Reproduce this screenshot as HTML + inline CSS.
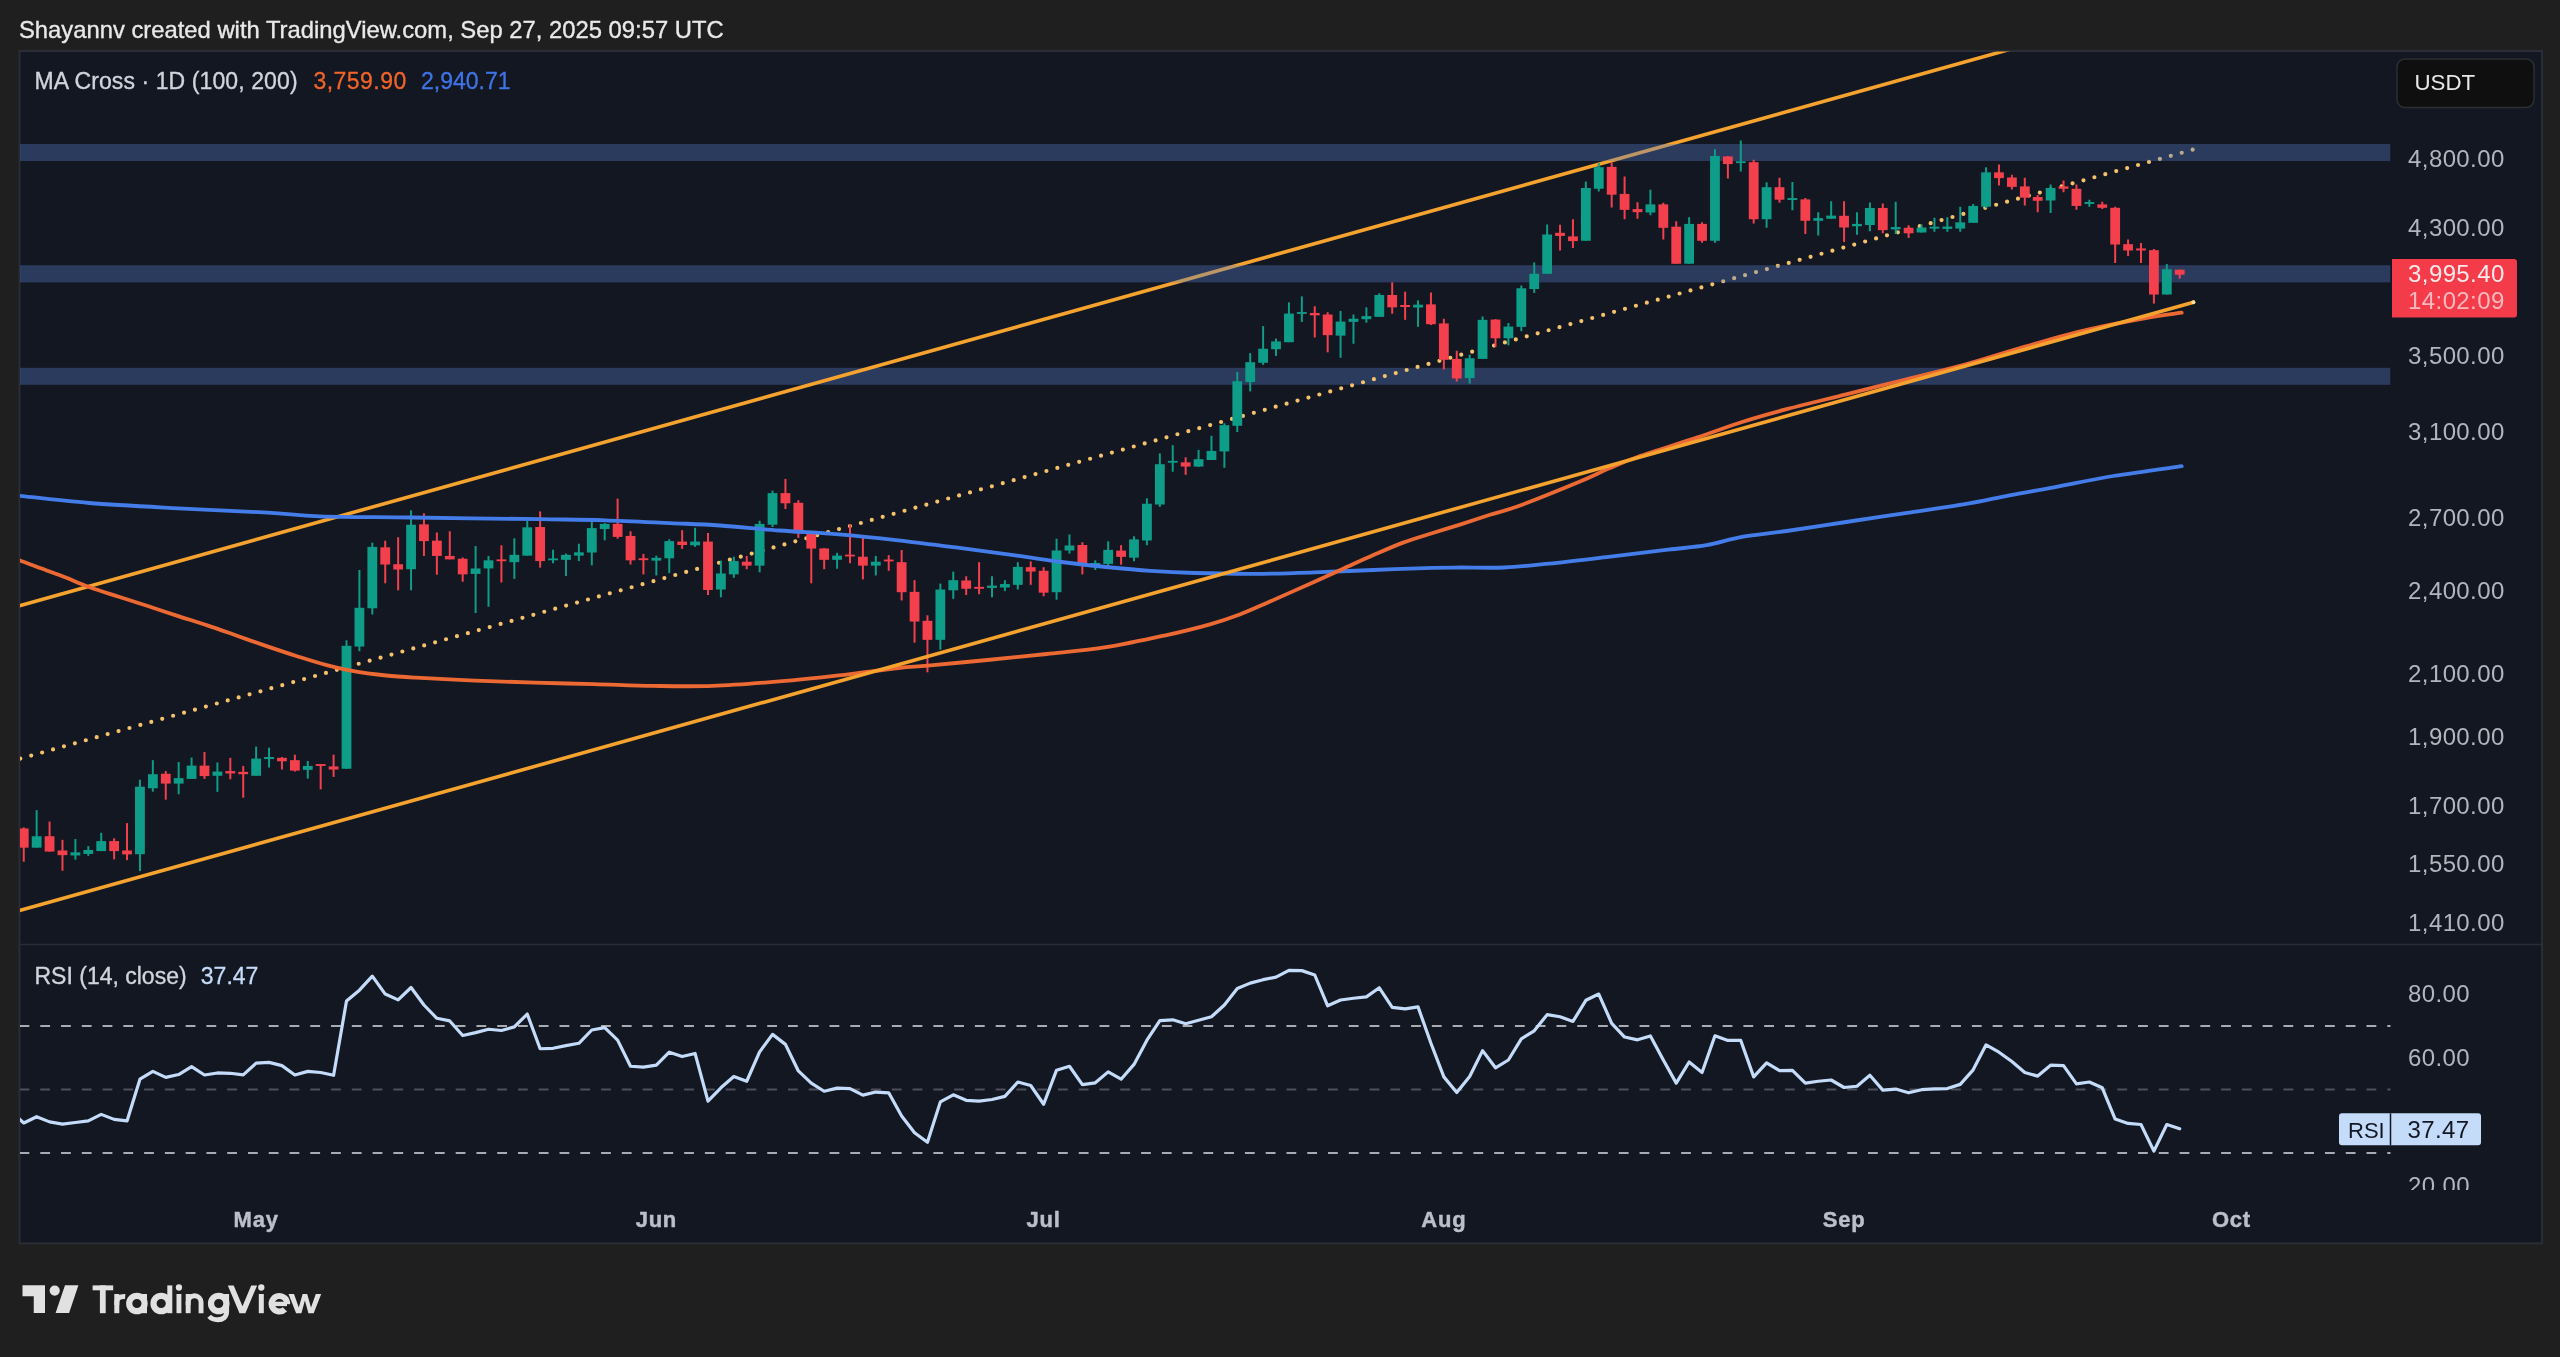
<!DOCTYPE html>
<html><head><meta charset="utf-8"><title>chart</title>
<style>html,body{margin:0;padding:0;background:#1f1f1f;}svg{display:block;will-change:transform}</style></head>
<body>
<svg width="2560" height="1357" viewBox="0 0 2560 1357" font-family='"Liberation Sans", sans-serif'>
<defs>
<clipPath id="pm"><rect x="20.0" y="51.5" width="2370.5" height="892.5"/></clipPath>
<clipPath id="pr"><rect x="20.0" y="945.0" width="2521.5" height="245.0"/></clipPath>
<clipPath id="inb"><rect x="0" y="144" width="2560" height="17"/><rect x="0" y="265.2" width="2560" height="17.2"/></clipPath>
<clipPath id="outb"><path clip-rule="evenodd" d="M0 0H2560V1357H0ZM0 144H2560V161H0ZM0 265.2H2560V282.4H0Z"/></clipPath>
</defs>
<rect width="2560" height="1357" fill="#1f1f1f"/>
<text x="19" y="37.6" font-size="23.8" fill="#e9e9e9" stroke="#e9e9e9" stroke-width="0.35" id="hdr">Shayannv created with TradingView.com, Sep 27, 2025 09:57 UTC</text>
<rect x="19.5" y="51" width="2522.5" height="1192.4" fill="#131722" stroke="#2b2d36" stroke-width="2"/>
<line x1="19.5" x2="2542" y1="944.5" y2="944.5" stroke="#2b2d36" stroke-width="1.5"/>
<g clip-path="url(#pm)">
<rect x="19.5" y="367.8" width="2371.0" height="17" fill="rgba(85,126,203,0.35)"/>
<line x1="19.4" y1="605.7" x2="2100" y2="24.17" stroke="#f5a32e" stroke-width="3.6"/>
<line x1="20.3" y1="758.6" x2="2193.2" y2="149.54" stroke="#f5c26b" stroke-width="4.2" stroke-linecap="round" stroke-dasharray="0 11.337"/>
<rect x="19.5" y="144" width="2371.0" height="17" fill="rgba(85,126,203,0.35)"/>
<rect x="19.5" y="265.2" width="2371.0" height="17.2" fill="rgba(85,126,203,0.35)"/>
<path d="M23.75 827.34V861.72" stroke="#f4404d" stroke-width="2"/><rect x="18.85" y="828.44" width="9.8" height="19.22" fill="#f4404d"/>
<path d="M36.66 810.16V847.66" stroke="#0e9d88" stroke-width="2"/><rect x="31.76" y="836.25" width="9.8" height="11.41" fill="#0e9d88"/>
<path d="M49.57 821.56V851.56" stroke="#f4404d" stroke-width="2"/><rect x="44.67" y="836.25" width="9.8" height="15.31" fill="#f4404d"/>
<path d="M62.48 839.84V870.78" stroke="#f4404d" stroke-width="2"/><rect x="57.58" y="850.47" width="9.8" height="4.69" fill="#f4404d"/>
<path d="M75.39 839.06V859.69" stroke="#0e9d88" stroke-width="2"/><rect x="70.49" y="852.34" width="9.8" height="3.12" fill="#0e9d88"/>
<path d="M88.3 846.09V855.78" stroke="#0e9d88" stroke-width="2"/><rect x="83.4" y="850" width="9.8" height="3.91" fill="#0e9d88"/>
<path d="M101.21 832.81V851.09" stroke="#0e9d88" stroke-width="2"/><rect x="96.31" y="841.09" width="9.8" height="10" fill="#0e9d88"/>
<path d="M114.12 838.28V859.38" stroke="#f4404d" stroke-width="2"/><rect x="109.22" y="841.09" width="9.8" height="10" fill="#f4404d"/>
<path d="M127.03 823.12V860.16" stroke="#f4404d" stroke-width="2"/><rect x="122.13" y="850.47" width="9.8" height="3.91" fill="#f4404d"/>
<path d="M139.94 779.69V871.09" stroke="#0e9d88" stroke-width="2"/><rect x="135.04" y="786.72" width="9.8" height="67.5" fill="#0e9d88"/>
<path d="M152.85 760.16V791.72" stroke="#0e9d88" stroke-width="2"/><rect x="147.95" y="774.22" width="9.8" height="14.06" fill="#0e9d88"/>
<path d="M165.76 771.09V799.69" stroke="#f4404d" stroke-width="2"/><rect x="160.86" y="773.75" width="9.8" height="9.84" fill="#f4404d"/>
<path d="M178.67 762.03V794.22" stroke="#0e9d88" stroke-width="2"/><rect x="173.77" y="778.12" width="9.8" height="5.47" fill="#0e9d88"/>
<path d="M191.58 757.5V778.91" stroke="#0e9d88" stroke-width="2"/><rect x="186.68" y="765.62" width="9.8" height="13.28" fill="#0e9d88"/>
<path d="M204.49 752.03V778.91" stroke="#f4404d" stroke-width="2"/><rect x="199.59" y="765.62" width="9.8" height="10.47" fill="#f4404d"/>
<path d="M217.4 762.5V791.88" stroke="#0e9d88" stroke-width="2"/><rect x="212.5" y="771.56" width="9.8" height="4.22" fill="#0e9d88"/>
<path d="M230.31 757.81V779.22" stroke="#f4404d" stroke-width="2"/><rect x="225.41" y="771.09" width="9.8" height="2.34" fill="#f4404d"/>
<path d="M243.22 765.94V797.66" stroke="#f4404d" stroke-width="2"/><rect x="238.32" y="771.88" width="9.8" height="2.34" fill="#f4404d"/>
<path d="M256.13 746.56V775.78" stroke="#0e9d88" stroke-width="2"/><rect x="251.23" y="758.59" width="9.8" height="17.19" fill="#0e9d88"/>
<path d="M269.04 747.66V767.5" stroke="#0e9d88" stroke-width="2"/><rect x="264.14" y="757.03" width="9.8" height="2.03" fill="#0e9d88"/>
<path d="M281.95 757.03V769.53" stroke="#f4404d" stroke-width="2"/><rect x="277.05" y="757.81" width="9.8" height="3.44" fill="#f4404d"/>
<path d="M294.86 754.69V771.56" stroke="#f4404d" stroke-width="2"/><rect x="289.96" y="760.16" width="9.8" height="10.47" fill="#f4404d"/>
<path d="M307.77 760.94V778.59" stroke="#0e9d88" stroke-width="2"/><rect x="302.87" y="765.94" width="9.8" height="3.91" fill="#0e9d88"/>
<path d="M320.68 764.06V789.38" stroke="#f4404d" stroke-width="2"/><rect x="315.78" y="764.06" width="9.8" height="1.88" fill="#f4404d"/>
<path d="M333.59 754.69V776.88" stroke="#f4404d" stroke-width="2"/><rect x="328.69" y="766.41" width="9.8" height="3.12" fill="#f4404d"/>
<path d="M346.5 640.31V768.75" stroke="#0e9d88" stroke-width="2"/><rect x="341.6" y="645.78" width="9.8" height="122.97" fill="#0e9d88"/>
<path d="M359.41 570V651.25" stroke="#0e9d88" stroke-width="2"/><rect x="354.51" y="607.81" width="9.8" height="38.75" fill="#0e9d88"/>
<path d="M372.32 542.66V614.53" stroke="#0e9d88" stroke-width="2"/><rect x="367.42" y="546.88" width="9.8" height="61.41" fill="#0e9d88"/>
<path d="M385.23 540.78V583.28" stroke="#f4404d" stroke-width="2"/><rect x="380.33" y="547.34" width="9.8" height="17.19" fill="#f4404d"/>
<path d="M398.14 537.19V590.31" stroke="#f4404d" stroke-width="2"/><rect x="393.24" y="564.22" width="9.8" height="5.31" fill="#f4404d"/>
<path d="M411.05 510.31V590.31" stroke="#0e9d88" stroke-width="2"/><rect x="406.15" y="524.69" width="9.8" height="44.53" fill="#0e9d88"/>
<path d="M423.96 513.28V555.94" stroke="#f4404d" stroke-width="2"/><rect x="419.06" y="524.38" width="9.8" height="16.72" fill="#f4404d"/>
<path d="M436.87 532.5V574.69" stroke="#f4404d" stroke-width="2"/><rect x="431.97" y="540.62" width="9.8" height="15.31" fill="#f4404d"/>
<path d="M449.78 531.25V559.38" stroke="#f4404d" stroke-width="2"/><rect x="444.88" y="555.94" width="9.8" height="3.44" fill="#f4404d"/>
<path d="M462.69 557.5V581.72" stroke="#f4404d" stroke-width="2"/><rect x="457.79" y="558.75" width="9.8" height="15.62" fill="#f4404d"/>
<path d="M475.6 546.09V612.97" stroke="#0e9d88" stroke-width="2"/><rect x="470.7" y="568.44" width="9.8" height="5.47" fill="#0e9d88"/>
<path d="M488.51 555.94V606.72" stroke="#0e9d88" stroke-width="2"/><rect x="483.61" y="560.31" width="9.8" height="8.12" fill="#0e9d88"/>
<path d="M501.42 545.31V582.5" stroke="#f4404d" stroke-width="2"/><rect x="496.52" y="559.41" width="9.8" height="1.8" fill="#f4404d"/>
<path d="M514.33 538.28V578.91" stroke="#0e9d88" stroke-width="2"/><rect x="509.43" y="554.84" width="9.8" height="7.34" fill="#0e9d88"/>
<path d="M527.24 520.78V555.62" stroke="#0e9d88" stroke-width="2"/><rect x="522.34" y="527.34" width="9.8" height="28.28" fill="#0e9d88"/>
<path d="M540.15 511.41V567.66" stroke="#f4404d" stroke-width="2"/><rect x="535.25" y="527.03" width="9.8" height="34.06" fill="#f4404d"/>
<path d="M553.06 549.69V563.28" stroke="#0e9d88" stroke-width="2"/><rect x="548.16" y="558.48" width="9.8" height="1.8" fill="#0e9d88"/>
<path d="M565.97 553.59V575.94" stroke="#0e9d88" stroke-width="2"/><rect x="561.07" y="554.84" width="9.8" height="5" fill="#0e9d88"/>
<path d="M578.88 543.75V561.09" stroke="#0e9d88" stroke-width="2"/><rect x="573.98" y="552.34" width="9.8" height="3.28" fill="#0e9d88"/>
<path d="M591.79 521.56V565.31" stroke="#0e9d88" stroke-width="2"/><rect x="586.89" y="528.12" width="9.8" height="24.38" fill="#0e9d88"/>
<path d="M604.7 523.12V540.31" stroke="#0e9d88" stroke-width="2"/><rect x="599.8" y="523.91" width="9.8" height="5.16" fill="#0e9d88"/>
<path d="M617.61 498.59V538.75" stroke="#f4404d" stroke-width="2"/><rect x="612.71" y="523.91" width="9.8" height="12.97" fill="#f4404d"/>
<path d="M630.52 531.25V564.53" stroke="#f4404d" stroke-width="2"/><rect x="625.62" y="535.94" width="9.8" height="24.38" fill="#f4404d"/>
<path d="M643.43 553.91V574.38" stroke="#f4404d" stroke-width="2"/><rect x="638.53" y="558.28" width="9.8" height="1.88" fill="#f4404d"/>
<path d="M656.34 555.62V575.47" stroke="#0e9d88" stroke-width="2"/><rect x="651.44" y="557.81" width="9.8" height="2.81" fill="#0e9d88"/>
<path d="M669.25 539.22V573.12" stroke="#0e9d88" stroke-width="2"/><rect x="664.35" y="541.09" width="9.8" height="17.19" fill="#0e9d88"/>
<path d="M682.16 530.16V548.91" stroke="#f4404d" stroke-width="2"/><rect x="677.26" y="541.56" width="9.8" height="3.44" fill="#f4404d"/>
<path d="M695.07 527.81V546.88" stroke="#0e9d88" stroke-width="2"/><rect x="690.17" y="541.56" width="9.8" height="3.75" fill="#0e9d88"/>
<path d="M707.98 532.97V595" stroke="#f4404d" stroke-width="2"/><rect x="703.08" y="541.56" width="9.8" height="48.44" fill="#f4404d"/>
<path d="M720.89 560.62V597.34" stroke="#0e9d88" stroke-width="2"/><rect x="715.99" y="573.44" width="9.8" height="16.09" fill="#0e9d88"/>
<path d="M733.8 556.72V577.81" stroke="#0e9d88" stroke-width="2"/><rect x="728.9" y="561.09" width="9.8" height="13.28" fill="#0e9d88"/>
<path d="M746.71 555.94V569.22" stroke="#f4404d" stroke-width="2"/><rect x="741.81" y="561.72" width="9.8" height="3.91" fill="#f4404d"/>
<path d="M759.62 520.78V572.34" stroke="#0e9d88" stroke-width="2"/><rect x="754.72" y="523.91" width="9.8" height="41.72" fill="#0e9d88"/>
<path d="M772.53 490.62V527.03" stroke="#0e9d88" stroke-width="2"/><rect x="767.63" y="493.12" width="9.8" height="31.56" fill="#0e9d88"/>
<path d="M785.44 478.91V509.06" stroke="#f4404d" stroke-width="2"/><rect x="780.54" y="493.12" width="9.8" height="10.16" fill="#f4404d"/>
<path d="M798.35 500.16V537.97" stroke="#f4404d" stroke-width="2"/><rect x="793.45" y="502.81" width="9.8" height="30.47" fill="#f4404d"/>
<path d="M811.26 532.5V583.28" stroke="#f4404d" stroke-width="2"/><rect x="806.36" y="532.97" width="9.8" height="15.62" fill="#f4404d"/>
<path d="M824.17 548.12V569.22" stroke="#f4404d" stroke-width="2"/><rect x="819.27" y="548.44" width="9.8" height="11.41" fill="#f4404d"/>
<path d="M837.08 552.81V568.75" stroke="#0e9d88" stroke-width="2"/><rect x="832.18" y="555.62" width="9.8" height="4.22" fill="#0e9d88"/>
<path d="M849.99 523.91V563.28" stroke="#f4404d" stroke-width="2"/><rect x="845.09" y="554.65" width="9.8" height="1.8" fill="#f4404d"/>
<path d="M862.9 537.19V579.38" stroke="#f4404d" stroke-width="2"/><rect x="858" y="556.72" width="9.8" height="8.91" fill="#f4404d"/>
<path d="M875.81 555.94V575.47" stroke="#0e9d88" stroke-width="2"/><rect x="870.91" y="561.72" width="9.8" height="3.91" fill="#0e9d88"/>
<path d="M888.72 555.16V570.78" stroke="#f4404d" stroke-width="2"/><rect x="883.82" y="559.57" width="9.8" height="1.8" fill="#f4404d"/>
<path d="M901.63 550V600.47" stroke="#f4404d" stroke-width="2"/><rect x="896.73" y="562.19" width="9.8" height="30" fill="#f4404d"/>
<path d="M914.54 580.16V642.66" stroke="#f4404d" stroke-width="2"/><rect x="909.64" y="591.88" width="9.8" height="29.69" fill="#f4404d"/>
<path d="M927.45 615.31V672.34" stroke="#f4404d" stroke-width="2"/><rect x="922.55" y="620.78" width="9.8" height="19.06" fill="#f4404d"/>
<path d="M940.36 583.59V649.69" stroke="#0e9d88" stroke-width="2"/><rect x="935.46" y="589.53" width="9.8" height="50.31" fill="#0e9d88"/>
<path d="M953.27 571.56V598.91" stroke="#0e9d88" stroke-width="2"/><rect x="948.37" y="580.16" width="9.8" height="10.16" fill="#0e9d88"/>
<path d="M966.18 576.25V595" stroke="#f4404d" stroke-width="2"/><rect x="961.28" y="580.47" width="9.8" height="8.28" fill="#f4404d"/>
<path d="M979.09 562.19V594.22" stroke="#f4404d" stroke-width="2"/><rect x="974.19" y="586.88" width="9.8" height="1.88" fill="#f4404d"/>
<path d="M992 576.25V597.34" stroke="#0e9d88" stroke-width="2"/><rect x="987.1" y="585.62" width="9.8" height="2.34" fill="#0e9d88"/>
<path d="M1004.91 580.16V591.09" stroke="#0e9d88" stroke-width="2"/><rect x="1000.01" y="584.06" width="9.8" height="3.44" fill="#0e9d88"/>
<path d="M1017.82 562.19V589.53" stroke="#0e9d88" stroke-width="2"/><rect x="1012.92" y="566.88" width="9.8" height="17.97" fill="#0e9d88"/>
<path d="M1030.73 561.41V584.84" stroke="#f4404d" stroke-width="2"/><rect x="1025.83" y="567.19" width="9.8" height="4.38" fill="#f4404d"/>
<path d="M1043.64 567.19V596.25" stroke="#f4404d" stroke-width="2"/><rect x="1038.74" y="570.78" width="9.8" height="21.88" fill="#f4404d"/>
<path d="M1056.55 538.75V599.69" stroke="#0e9d88" stroke-width="2"/><rect x="1051.65" y="550.47" width="9.8" height="41.72" fill="#0e9d88"/>
<path d="M1069.46 534.53V553.59" stroke="#0e9d88" stroke-width="2"/><rect x="1064.56" y="545.47" width="9.8" height="5" fill="#0e9d88"/>
<path d="M1082.37 542.19V574.38" stroke="#f4404d" stroke-width="2"/><rect x="1077.47" y="545" width="9.8" height="18.28" fill="#f4404d"/>
<path d="M1095.28 560.31V570" stroke="#0e9d88" stroke-width="2"/><rect x="1090.38" y="562.97" width="9.8" height="4.22" fill="#0e9d88"/>
<path d="M1108.19 541.25V566.25" stroke="#0e9d88" stroke-width="2"/><rect x="1103.29" y="549.84" width="9.8" height="14.06" fill="#0e9d88"/>
<path d="M1121.1 545.16V564.69" stroke="#f4404d" stroke-width="2"/><rect x="1116.2" y="550.62" width="9.8" height="6.25" fill="#f4404d"/>
<path d="M1134.01 536.25V561.25" stroke="#0e9d88" stroke-width="2"/><rect x="1129.11" y="539.38" width="9.8" height="18.28" fill="#0e9d88"/>
<path d="M1146.92 498.28V545.16" stroke="#0e9d88" stroke-width="2"/><rect x="1142.02" y="503.75" width="9.8" height="36.72" fill="#0e9d88"/>
<path d="M1159.83 453.44V506.88" stroke="#0e9d88" stroke-width="2"/><rect x="1154.93" y="464.22" width="9.8" height="40.31" fill="#0e9d88"/>
<path d="M1172.74 445.16V471.72" stroke="#0e9d88" stroke-width="2"/><rect x="1167.84" y="460.9" width="9.8" height="1.8" fill="#0e9d88"/>
<path d="M1185.65 457.34V474.84" stroke="#f4404d" stroke-width="2"/><rect x="1180.75" y="462.34" width="9.8" height="4.22" fill="#f4404d"/>
<path d="M1198.56 449.84V467.03" stroke="#0e9d88" stroke-width="2"/><rect x="1193.66" y="459.22" width="9.8" height="7.34" fill="#0e9d88"/>
<path d="M1211.47 435.78V460" stroke="#0e9d88" stroke-width="2"/><rect x="1206.57" y="450.94" width="9.8" height="9.06" fill="#0e9d88"/>
<path d="M1224.38 423.28V467.81" stroke="#0e9d88" stroke-width="2"/><rect x="1219.48" y="425.16" width="9.8" height="26.25" fill="#0e9d88"/>
<path d="M1237.29 371.88V432.03" stroke="#0e9d88" stroke-width="2"/><rect x="1232.39" y="381.25" width="9.8" height="44.53" fill="#0e9d88"/>
<path d="M1250.2 353.12V391.41" stroke="#0e9d88" stroke-width="2"/><rect x="1245.3" y="362.19" width="9.8" height="19.84" fill="#0e9d88"/>
<path d="M1263.11 326.09V364.84" stroke="#0e9d88" stroke-width="2"/><rect x="1258.21" y="348.75" width="9.8" height="14.06" fill="#0e9d88"/>
<path d="M1276.02 338.59V355.94" stroke="#0e9d88" stroke-width="2"/><rect x="1271.12" y="341.41" width="9.8" height="7.81" fill="#0e9d88"/>
<path d="M1288.93 302.34V342.19" stroke="#0e9d88" stroke-width="2"/><rect x="1284.03" y="313.59" width="9.8" height="28.59" fill="#0e9d88"/>
<path d="M1301.84 296.41V321.88" stroke="#0e9d88" stroke-width="2"/><rect x="1296.94" y="312.07" width="9.8" height="1.8" fill="#0e9d88"/>
<path d="M1314.75 306.25V337.5" stroke="#f4404d" stroke-width="2"/><rect x="1309.85" y="312.97" width="9.8" height="2.34" fill="#f4404d"/>
<path d="M1327.66 312.19V352.34" stroke="#f4404d" stroke-width="2"/><rect x="1322.76" y="314.53" width="9.8" height="20.62" fill="#f4404d"/>
<path d="M1340.57 310.94V357.81" stroke="#0e9d88" stroke-width="2"/><rect x="1335.67" y="321.56" width="9.8" height="14.06" fill="#0e9d88"/>
<path d="M1353.48 314.53V343.75" stroke="#0e9d88" stroke-width="2"/><rect x="1348.58" y="318.75" width="9.8" height="3.12" fill="#0e9d88"/>
<path d="M1366.39 307.34V322.66" stroke="#0e9d88" stroke-width="2"/><rect x="1361.49" y="316.09" width="9.8" height="3.12" fill="#0e9d88"/>
<path d="M1379.3 293.28V316.88" stroke="#0e9d88" stroke-width="2"/><rect x="1374.4" y="295" width="9.8" height="21.88" fill="#0e9d88"/>
<path d="M1392.21 282.34V313.75" stroke="#f4404d" stroke-width="2"/><rect x="1387.31" y="295" width="9.8" height="12.34" fill="#f4404d"/>
<path d="M1405.12 291.72V319.84" stroke="#f4404d" stroke-width="2"/><rect x="1400.22" y="305" width="9.8" height="2.03" fill="#f4404d"/>
<path d="M1418.03 300.31V326.88" stroke="#0e9d88" stroke-width="2"/><rect x="1413.13" y="304.69" width="9.8" height="2.81" fill="#0e9d88"/>
<path d="M1430.94 292.5V325" stroke="#f4404d" stroke-width="2"/><rect x="1426.04" y="304.38" width="9.8" height="19.84" fill="#f4404d"/>
<path d="M1443.85 318.75V369.53" stroke="#f4404d" stroke-width="2"/><rect x="1438.95" y="323.44" width="9.8" height="36.41" fill="#f4404d"/>
<path d="M1456.76 350.78V381.56" stroke="#f4404d" stroke-width="2"/><rect x="1451.86" y="358.91" width="9.8" height="19.53" fill="#f4404d"/>
<path d="M1469.67 354.69V383.59" stroke="#0e9d88" stroke-width="2"/><rect x="1464.77" y="358.28" width="9.8" height="19.84" fill="#0e9d88"/>
<path d="M1482.58 316.41V358.91" stroke="#0e9d88" stroke-width="2"/><rect x="1477.68" y="319.84" width="9.8" height="39.06" fill="#0e9d88"/>
<path d="M1495.49 319.22V346.88" stroke="#f4404d" stroke-width="2"/><rect x="1490.59" y="319.53" width="9.8" height="18.75" fill="#f4404d"/>
<path d="M1508.4 322.97V345.31" stroke="#0e9d88" stroke-width="2"/><rect x="1503.5" y="326.56" width="9.8" height="11.72" fill="#0e9d88"/>
<path d="M1521.31 285.47V331.25" stroke="#0e9d88" stroke-width="2"/><rect x="1516.41" y="288.28" width="9.8" height="38.59" fill="#0e9d88"/>
<path d="M1534.22 262.5V292.97" stroke="#0e9d88" stroke-width="2"/><rect x="1529.32" y="273.75" width="9.8" height="15.31" fill="#0e9d88"/>
<path d="M1547.13 224.5V273.75" stroke="#0e9d88" stroke-width="2"/><rect x="1542.23" y="234.5" width="9.8" height="39.25" fill="#0e9d88"/>
<path d="M1560.04 224.69V250.47" stroke="#f4404d" stroke-width="2"/><rect x="1555.14" y="232.81" width="9.8" height="3.12" fill="#f4404d"/>
<path d="M1572.95 219.22V248.12" stroke="#f4404d" stroke-width="2"/><rect x="1568.05" y="236.41" width="9.8" height="4.69" fill="#f4404d"/>
<path d="M1585.86 181.41V240.78" stroke="#0e9d88" stroke-width="2"/><rect x="1580.96" y="187.97" width="9.8" height="52.81" fill="#0e9d88"/>
<path d="M1598.77 162.97V191.56" stroke="#0e9d88" stroke-width="2"/><rect x="1593.87" y="167.19" width="9.8" height="21.56" fill="#0e9d88"/>
<path d="M1611.68 162.19V207.5" stroke="#f4404d" stroke-width="2"/><rect x="1606.78" y="166.88" width="9.8" height="27.81" fill="#f4404d"/>
<path d="M1624.59 176.56V219.22" stroke="#f4404d" stroke-width="2"/><rect x="1619.69" y="193.91" width="9.8" height="15.94" fill="#f4404d"/>
<path d="M1637.5 202.34V218.75" stroke="#f4404d" stroke-width="2"/><rect x="1632.6" y="209.06" width="9.8" height="3.12" fill="#f4404d"/>
<path d="M1650.41 189.84V215.31" stroke="#0e9d88" stroke-width="2"/><rect x="1645.51" y="204.38" width="9.8" height="8.12" fill="#0e9d88"/>
<path d="M1663.32 202.81V239.53" stroke="#f4404d" stroke-width="2"/><rect x="1658.42" y="204.38" width="9.8" height="23.44" fill="#f4404d"/>
<path d="M1676.23 221.25V263.75" stroke="#f4404d" stroke-width="2"/><rect x="1671.33" y="226.72" width="9.8" height="37.03" fill="#f4404d"/>
<path d="M1689.14 217.19V263.75" stroke="#0e9d88" stroke-width="2"/><rect x="1684.24" y="223.91" width="9.8" height="39.84" fill="#0e9d88"/>
<path d="M1702.05 222.34V242.66" stroke="#f4404d" stroke-width="2"/><rect x="1697.15" y="223.91" width="9.8" height="16.88" fill="#f4404d"/>
<path d="M1714.96 149.22V242.66" stroke="#0e9d88" stroke-width="2"/><rect x="1710.06" y="155.94" width="9.8" height="84.84" fill="#0e9d88"/>
<path d="M1727.87 155.94V178.59" stroke="#f4404d" stroke-width="2"/><rect x="1722.97" y="156.41" width="9.8" height="7.66" fill="#f4404d"/>
<path d="M1740.78 140.62V171.56" stroke="#0e9d88" stroke-width="2"/><rect x="1735.88" y="161.29" width="9.8" height="1.8" fill="#0e9d88"/>
<path d="M1753.69 159.84V223.44" stroke="#f4404d" stroke-width="2"/><rect x="1748.79" y="162.19" width="9.8" height="57.03" fill="#f4404d"/>
<path d="M1766.6 182.19V227.81" stroke="#0e9d88" stroke-width="2"/><rect x="1761.7" y="187.19" width="9.8" height="32.03" fill="#0e9d88"/>
<path d="M1779.51 177.81V202.81" stroke="#f4404d" stroke-width="2"/><rect x="1774.61" y="187.19" width="9.8" height="12.5" fill="#f4404d"/>
<path d="M1792.42 182.03V210.31" stroke="#0e9d88" stroke-width="2"/><rect x="1787.52" y="198.12" width="9.8" height="1.88" fill="#0e9d88"/>
<path d="M1805.33 198.12V234.06" stroke="#f4404d" stroke-width="2"/><rect x="1800.43" y="199.38" width="9.8" height="21.41" fill="#f4404d"/>
<path d="M1818.24 212.19V235.62" stroke="#0e9d88" stroke-width="2"/><rect x="1813.34" y="218.12" width="9.8" height="2.66" fill="#0e9d88"/>
<path d="M1831.15 201.25V218.75" stroke="#0e9d88" stroke-width="2"/><rect x="1826.25" y="215.62" width="9.8" height="3.12" fill="#0e9d88"/>
<path d="M1844.06 201.25V241.88" stroke="#f4404d" stroke-width="2"/><rect x="1839.16" y="215.78" width="9.8" height="11.72" fill="#f4404d"/>
<path d="M1856.97 212.19V234.84" stroke="#0e9d88" stroke-width="2"/><rect x="1852.07" y="223.91" width="9.8" height="2.34" fill="#0e9d88"/>
<path d="M1869.88 202.5V231.25" stroke="#0e9d88" stroke-width="2"/><rect x="1864.98" y="207.97" width="9.8" height="17.03" fill="#0e9d88"/>
<path d="M1882.79 203.59V233.28" stroke="#f4404d" stroke-width="2"/><rect x="1877.89" y="207.97" width="9.8" height="22.19" fill="#f4404d"/>
<path d="M1895.7 201.72V234.06" stroke="#0e9d88" stroke-width="2"/><rect x="1890.8" y="227.03" width="9.8" height="2.34" fill="#0e9d88"/>
<path d="M1908.61 225.16V237.97" stroke="#f4404d" stroke-width="2"/><rect x="1903.71" y="227.81" width="9.8" height="5.47" fill="#f4404d"/>
<path d="M1921.52 224.38V232.5" stroke="#0e9d88" stroke-width="2"/><rect x="1916.62" y="227.5" width="9.8" height="5" fill="#0e9d88"/>
<path d="M1934.43 217.66V231.72" stroke="#0e9d88" stroke-width="2"/><rect x="1929.53" y="226.72" width="9.8" height="1.88" fill="#0e9d88"/>
<path d="M1947.34 217.19V231.72" stroke="#0e9d88" stroke-width="2"/><rect x="1942.44" y="226.56" width="9.8" height="2.34" fill="#0e9d88"/>
<path d="M1960.25 206.72V231.72" stroke="#0e9d88" stroke-width="2"/><rect x="1955.35" y="222.34" width="9.8" height="6.25" fill="#0e9d88"/>
<path d="M1973.16 203.91V222.81" stroke="#0e9d88" stroke-width="2"/><rect x="1968.26" y="205.94" width="9.8" height="16.88" fill="#0e9d88"/>
<path d="M1986.07 167.34V208.28" stroke="#0e9d88" stroke-width="2"/><rect x="1981.17" y="172.34" width="9.8" height="34.38" fill="#0e9d88"/>
<path d="M1998.98 164.53V185.62" stroke="#f4404d" stroke-width="2"/><rect x="1994.08" y="172.34" width="9.8" height="5.78" fill="#f4404d"/>
<path d="M2011.89 174.69V189.53" stroke="#f4404d" stroke-width="2"/><rect x="2006.99" y="177.5" width="9.8" height="9.38" fill="#f4404d"/>
<path d="M2024.8 177.81V205.62" stroke="#f4404d" stroke-width="2"/><rect x="2019.9" y="186.41" width="9.8" height="11.25" fill="#f4404d"/>
<path d="M2037.71 195V212.19" stroke="#f4404d" stroke-width="2"/><rect x="2032.81" y="197.03" width="9.8" height="3.75" fill="#f4404d"/>
<path d="M2050.62 184.38V212.97" stroke="#0e9d88" stroke-width="2"/><rect x="2045.72" y="187.97" width="9.8" height="12.5" fill="#0e9d88"/>
<path d="M2063.53 180.62V192.19" stroke="#f4404d" stroke-width="2"/><rect x="2058.63" y="186.41" width="9.8" height="2.34" fill="#f4404d"/>
<path d="M2076.44 184.53V209.84" stroke="#f4404d" stroke-width="2"/><rect x="2071.54" y="188.75" width="9.8" height="17.19" fill="#f4404d"/>
<path d="M2089.35 199.69V206.72" stroke="#0e9d88" stroke-width="2"/><rect x="2084.45" y="202.03" width="9.8" height="1.88" fill="#0e9d88"/>
<path d="M2102.26 201.72V209.06" stroke="#f4404d" stroke-width="2"/><rect x="2097.36" y="204.38" width="9.8" height="3.44" fill="#f4404d"/>
<path d="M2115.17 206.72V262.97" stroke="#f4404d" stroke-width="2"/><rect x="2110.27" y="207.81" width="9.8" height="36.72" fill="#f4404d"/>
<path d="M2128.08 239.53V255.94" stroke="#f4404d" stroke-width="2"/><rect x="2123.18" y="244.22" width="9.8" height="6.25" fill="#f4404d"/>
<path d="M2140.99 243.12V262.97" stroke="#f4404d" stroke-width="2"/><rect x="2136.09" y="248.44" width="9.8" height="2.03" fill="#f4404d"/>
<path d="M2153.9 248.91V303.59" stroke="#f4404d" stroke-width="2"/><rect x="2149" y="250.16" width="9.8" height="44.38" fill="#f4404d"/>
<path d="M2166.81 264.06V294.53" stroke="#0e9d88" stroke-width="2"/><rect x="2161.91" y="269.22" width="9.8" height="25.31" fill="#0e9d88"/>
<path d="M2179.72 269.69V278.59" stroke="#f4404d" stroke-width="2"/><rect x="2174.82" y="269.69" width="9.8" height="5" fill="#f4404d"/>
<path d="M19.3 495.8C30.93 497 62.62 500.92 89.1 503C115.58 505.08 148.5 506.7 178.2 508.3C207.9 509.9 243.67 511.27 267.3 512.6C290.93 513.93 296.05 515.48 320 516.3C343.95 517.12 374.33 517.02 411 517.5C447.67 517.98 507.67 518.73 540 519.2C572.33 519.67 583.33 519.65 605 520.3C626.67 520.95 650.83 522.23 670 523.1C689.17 523.97 701.77 524.27 720 525.5C738.23 526.73 759.6 529.03 779.4 530.5C799.2 531.97 819 532.67 838.8 534.3C858.6 535.93 878.4 538.07 898.2 540.3C918 542.53 937.8 545.13 957.6 547.7C977.4 550.27 999.68 553.32 1017 555.7C1034.32 558.08 1046.65 560.12 1061.5 562C1076.35 563.88 1091.25 565.52 1106.1 567C1120.95 568.48 1135.75 569.9 1150.6 570.9C1165.45 571.9 1177.87 572.52 1195.2 573C1212.53 573.48 1234.8 573.9 1254.6 573.8C1274.4 573.7 1294.2 573.03 1314 572.4C1333.8 571.77 1353.6 570.75 1373.4 570C1393.2 569.25 1418.37 568.32 1432.8 567.9C1447.23 567.48 1448.03 567.57 1460 567.5C1471.97 567.43 1489.75 568.15 1504.6 567.5C1519.45 566.85 1531.78 565.38 1549.1 563.6C1566.42 561.82 1588.7 559.12 1608.5 556.8C1628.3 554.48 1651.57 551.63 1667.9 549.7C1684.23 547.77 1694.13 547.33 1706.5 545.2C1718.87 543.07 1728.73 539.27 1742.1 536.9C1755.47 534.53 1769.37 533.48 1786.7 531C1804.03 528.52 1826.3 524.98 1846.1 522C1865.9 519.02 1885.7 516.07 1905.5 513.1C1925.3 510.13 1947.58 507.17 1964.9 504.2C1982.22 501.23 1994.55 498.12 2009.4 495.3C2024.25 492.48 2036.67 490.52 2054 487.3C2071.33 484.08 2092.12 479.52 2113.4 476C2134.68 472.48 2170.32 467.83 2181.7 466.2" fill="none" stroke="#447dea" stroke-width="3.8" stroke-linecap="round"/>
<path d="M19.3 560.3C25.98 562.77 47.77 570.65 59.4 575.1C71.03 579.55 79.2 583.38 89.1 587C99 590.62 108.9 593.58 118.8 596.8C128.7 600.02 138.6 603.08 148.5 606.3C158.4 609.52 168.3 612.88 178.2 616.1C188.1 619.32 198 622.28 207.9 625.6C217.8 628.92 227.7 632.53 237.6 636C247.5 639.47 257.4 643.03 267.3 646.4C277.2 649.77 287.1 653.08 297 656.2C306.9 659.32 316.8 662.52 326.7 665.1C336.6 667.68 346.5 669.97 356.4 671.7C366.3 673.43 376.2 674.52 386.1 675.5C396 676.48 400.95 676.75 415.8 677.6C430.65 678.45 455.4 679.75 475.2 680.6C495 681.45 514.8 682.12 534.6 682.7C554.4 683.28 574.2 683.57 594 684.1C613.8 684.63 633.6 685.6 653.4 685.9C673.2 686.2 691.8 686.65 712.8 685.9C733.8 685.15 758.4 683.15 779.4 681.4C800.4 679.65 819 677.63 838.8 675.4C858.6 673.17 883.35 669.63 898.2 668C913.05 666.37 913.05 666.93 927.9 665.6C942.75 664.27 967.5 661.93 987.3 660C1007.1 658.07 1026.9 656.13 1046.7 654C1066.5 651.87 1086.3 650.32 1106.1 647.2C1125.9 644.08 1148.18 639.12 1165.5 635.3C1182.82 631.48 1197.63 627.77 1210 624.3C1222.37 620.83 1229.8 618.25 1239.7 614.5C1249.6 610.75 1257.02 607.23 1269.4 601.8C1281.78 596.37 1301.62 587.45 1314 581.9C1326.38 576.35 1333.8 572.97 1343.7 568.5C1353.6 564.03 1363.5 559.42 1373.4 555.1C1383.3 550.78 1393.2 546.28 1403.1 542.6C1413 538.92 1423.32 536 1432.8 533C1442.28 530 1450.47 527.63 1460 524.6C1469.53 521.57 1480.1 517.95 1490 514.8C1499.9 511.65 1504.6 511.17 1519.4 505.7C1534.2 500.23 1563.95 488.18 1578.8 482C1593.65 475.82 1598.6 472.82 1608.5 468.6C1618.4 464.38 1623.35 461.9 1638.2 456.7C1653.05 451.5 1680.28 443.18 1697.6 437.4C1714.92 431.62 1727.25 426.7 1742.1 422C1756.95 417.3 1769.37 413.82 1786.7 409.2C1804.03 404.58 1826.3 399.25 1846.1 394.3C1865.9 389.35 1885.7 384.45 1905.5 379.5C1925.3 374.55 1945.1 370.05 1964.9 364.6C1984.7 359.15 2004.5 352.48 2024.3 346.8C2044.1 341.12 2063.9 335.2 2083.7 330.5C2103.5 325.8 2126.77 321.57 2143.1 318.6C2159.43 315.63 2175.27 313.68 2181.7 312.7" fill="none" stroke="#ec6934" stroke-width="3.8" stroke-linecap="round"/>
<line x1="19.4" y1="910.6" x2="2193.6" y2="302.19" stroke="#f5a32e" stroke-width="3.6" stroke-linecap="round"/>
<circle cx="2193.3" cy="302.29" r="2" fill="#fbdca0"/>
</g>
<text x="34.5" y="88.7" font-size="23" letter-spacing="0.1" fill="#d1d4dc" stroke="#d1d4dc" stroke-width="0.35" id="lg1">MA Cross · 1D (100, 200)</text>
<text x="313.5" y="88.7" font-size="23" letter-spacing="0.45" fill="#f0642a" stroke="#f0642a" stroke-width="0.3" id="lg2">3,759.90</text>
<text x="421" y="88.7" font-size="23" fill="#3f74e8" stroke="#3f74e8" stroke-width="0.3" id="lg3">2,940.71</text>
<text x="2504.7" y="167" font-size="24" letter-spacing="0.4" fill="#b2b5be" text-anchor="end" class="pl">4,800.00</text>
<text x="2504.7" y="235.59" font-size="24" letter-spacing="0.4" fill="#b2b5be" text-anchor="end" class="pl">4,300.00</text>
<text x="2504.7" y="363.93" font-size="24" letter-spacing="0.4" fill="#b2b5be" text-anchor="end" class="pl">3,500.00</text>
<text x="2504.7" y="439.6" font-size="24" letter-spacing="0.4" fill="#b2b5be" text-anchor="end" class="pl">3,100.00</text>
<text x="2504.7" y="525.74" font-size="24" letter-spacing="0.4" fill="#b2b5be" text-anchor="end" class="pl">2,700.00</text>
<text x="2504.7" y="599.18" font-size="24" letter-spacing="0.4" fill="#b2b5be" text-anchor="end" class="pl">2,400.00</text>
<text x="2504.7" y="682.43" font-size="24" letter-spacing="0.4" fill="#b2b5be" text-anchor="end" class="pl">2,100.00</text>
<text x="2504.7" y="744.84" font-size="24" letter-spacing="0.4" fill="#b2b5be" text-anchor="end" class="pl">1,900.00</text>
<text x="2504.7" y="814.19" font-size="24" letter-spacing="0.4" fill="#b2b5be" text-anchor="end" class="pl">1,700.00</text>
<text x="2504.7" y="871.78" font-size="24" letter-spacing="0.4" fill="#b2b5be" text-anchor="end" class="pl">1,550.00</text>
<text x="2504.7" y="930.8" font-size="24" letter-spacing="0.4" fill="#b2b5be" text-anchor="end" class="pl">1,410.00</text>
<path d="M2392 259H2514a3 3 0 0 1 3 3V314.5a3 3 0 0 1-3 3H2392Z" fill="#f33b4a"/>
<text x="2504.7" y="282" font-size="24" letter-spacing="0.4" fill="#ffe9eb" text-anchor="end">3,995.40</text>
<text x="2504.7" y="309.2" font-size="24" letter-spacing="0.4" fill="#fbb9be" text-anchor="end">14:02:09</text>
<rect x="2397" y="59" width="137" height="48.5" rx="8" fill="#0f0f0f" stroke="#2e2e33" stroke-width="1.5"/>
<text x="2414.5" y="90.3" font-size="22.3" fill="#e8e8e8">USDT</text>
<g clip-path="url(#pr)">
<line x1="19.5" x2="2390.5" y1="1026" y2="1026" stroke="#a9abb3" stroke-width="2" stroke-dasharray="9.8 10.97"/>
<line x1="19.5" x2="2390.5" y1="1089.5" y2="1089.5" stroke="#4e515c" stroke-width="2" stroke-dasharray="9.8 10.97"/>
<line x1="19.5" x2="2390.5" y1="1153" y2="1153" stroke="#a9abb3" stroke-width="2" stroke-dasharray="9.8 10.97"/>
<path d="M19.3 1119.06L23.75 1122.97L36.66 1116.72L49.57 1121.88L62.48 1124.06L75.39 1122.5L88.3 1120.94L101.21 1114.38L114.12 1119.38L127.03 1120.94L139.94 1079.22L152.85 1071.41L165.76 1077.34L178.67 1074.53L191.58 1066.72L204.49 1075L217.4 1072.97L230.31 1073.28L243.22 1074.84L256.13 1063.12L269.04 1062.34L281.95 1065.62L294.86 1075L307.77 1071.41L320.68 1072.5L333.59 1075.31L346.5 1001.09L359.41 990.16L372.32 976.09L385.23 994.06L398.14 999.84L411.05 987.5L423.96 1005L436.87 1018.28L449.78 1020.94L462.69 1035.47L475.6 1032.66L488.51 1029.22L501.42 1030.47L514.33 1026.88L527.24 1014.06L540.15 1048.75L553.06 1048.28L565.97 1045.62L578.88 1043.28L591.79 1030L604.7 1027.66L617.61 1040.16L630.52 1066.25L643.43 1067.19L656.34 1065.16L669.25 1052.19L682.16 1056.56L695.07 1053.44L707.98 1101.09L720.89 1087.81L733.8 1076.56L746.71 1081.25L759.62 1051.88L772.53 1034.38L785.44 1044.38L798.35 1070.94L811.26 1083.12L824.17 1091.25L837.08 1088.12L849.99 1088.59L862.9 1095.16L875.81 1092.03L888.72 1092.81L901.63 1115.94L914.54 1132.81L927.45 1142.19L940.36 1101.88L953.27 1094.84L966.18 1100.31L979.09 1101.09L992 1099.53L1004.91 1096.41L1017.82 1082.03L1030.73 1085.47L1043.64 1104.22L1056.55 1070.16L1069.46 1066.25L1082.37 1084.69L1095.28 1082.81L1108.19 1071.88L1121.1 1079.22L1134.01 1064.38L1146.92 1040.16L1159.83 1020.62L1172.74 1019.84L1185.65 1023.75L1198.56 1020.31L1211.47 1016.72L1224.38 1005L1237.29 988.59L1250.2 983.12L1263.11 979.69L1276.02 977.19L1288.93 970.31L1301.84 970.62L1314.75 975L1327.66 1005.78L1340.57 1000L1353.48 998.28L1366.39 996.88L1379.3 987.81L1392.21 1007.34L1405.12 1008.91L1418.03 1006.88L1430.94 1043.28L1443.85 1076.88L1456.76 1092.5L1469.67 1076.56L1482.58 1050.62L1495.49 1067.81L1508.4 1060L1521.31 1038.91L1534.22 1030.78L1547.13 1014.69L1560.04 1016.72L1572.95 1021.41L1585.86 1000.31L1598.77 994.06L1611.68 1023.28L1624.59 1037.03L1637.5 1039.84L1650.41 1035.94L1663.32 1060L1676.23 1083.12L1689.14 1062.03L1702.05 1072.5L1714.96 1035.78L1727.87 1040.47L1740.78 1040.47L1753.69 1076.88L1766.6 1062.81L1779.51 1070.62L1792.42 1070.31L1805.33 1083.12L1818.24 1081.25L1831.15 1080L1844.06 1087.5L1856.97 1086.25L1869.88 1075.31L1882.79 1090.16L1895.7 1089.06L1908.61 1092.81L1921.52 1089.69L1934.43 1088.91L1947.34 1088.59L1960.25 1084.38L1973.16 1069.84L1986.07 1044.84L1998.98 1052.19L2011.89 1061.56L2024.8 1072.5L2037.71 1076.09L2050.62 1065.16L2063.53 1065.62L2076.44 1083.91L2089.35 1082.03L2102.26 1087.81L2115.17 1119.06L2128.08 1123.44L2140.99 1124.53L2153.9 1151.09L2166.81 1124.53L2179.72 1128.75" fill="none" stroke="#c4dcfa" stroke-width="3.2" stroke-linejoin="round" stroke-linecap="round"/>
<text x="2470" y="1002" font-size="24" letter-spacing="0.4" fill="#b2b5be" text-anchor="end">80.00</text>
<text x="2470" y="1066" font-size="24" letter-spacing="0.4" fill="#b2b5be" text-anchor="end">60.00</text>
<text x="2470" y="1194" font-size="24" letter-spacing="0.4" fill="#b2b5be" text-anchor="end">20.00</text>
</g>
<text x="34.5" y="983.9" font-size="23" fill="#d1d4dc" stroke="#d1d4dc" stroke-width="0.35" id="rl1">RSI (14, close)</text>
<text x="200.8" y="983.9" font-size="23" fill="#c4dcfa" stroke="#c4dcfa" stroke-width="0.3" id="rl2">37.47</text>
<rect x="2339" y="1113.3" width="142" height="32" rx="3" fill="#c4dcfa"/>
<line x1="2390.5" x2="2390.5" y1="1113.3" y2="1145.3" stroke="#131722" stroke-width="1.5"/>
<text x="2348" y="1137.7" font-size="22" fill="#131722">RSI</text>
<text x="2469.5" y="1137.7" font-size="24" letter-spacing="0.4" fill="#131722" text-anchor="end">37.47</text>
<text x="256.13" y="1226.5" font-size="22" letter-spacing="0.75" font-weight="bold" fill="#bcbfc9" stroke="#bcbfc9" stroke-width="0.45" text-anchor="middle">May</text>
<text x="656.34" y="1226.5" font-size="22" letter-spacing="0.75" font-weight="bold" fill="#bcbfc9" stroke="#bcbfc9" stroke-width="0.45" text-anchor="middle">Jun</text>
<text x="1043.64" y="1226.5" font-size="22" letter-spacing="0.75" font-weight="bold" fill="#bcbfc9" stroke="#bcbfc9" stroke-width="0.45" text-anchor="middle">Jul</text>
<text x="1443.85" y="1226.5" font-size="22" letter-spacing="0.75" font-weight="bold" fill="#bcbfc9" stroke="#bcbfc9" stroke-width="0.45" text-anchor="middle">Aug</text>
<text x="1844.06" y="1226.5" font-size="22" letter-spacing="0.75" font-weight="bold" fill="#bcbfc9" stroke="#bcbfc9" stroke-width="0.45" text-anchor="middle">Sep</text>
<text x="2231.36" y="1226.5" font-size="22" letter-spacing="0.75" font-weight="bold" fill="#bcbfc9" stroke="#bcbfc9" stroke-width="0.45" text-anchor="middle">Oct</text>
<path d="M22.5 1285.3H45V1313.1H33.75V1296.25H22.5Z" fill="#e1e1e1"/>
<circle cx="54.7" cy="1290.6" r="5.1" fill="#e1e1e1"/>
<path d="M65 1285.3H78.4L69.1 1313.1H55.6Z" fill="#e1e1e1"/>
<g fill="#e1e1e1" stroke="none">
<rect x="92.6" y="1285.4" width="20.6" height="4.9"/><rect x="99.9" y="1285.4" width="5.8" height="27.8"/>
<rect x="114.3" y="1294.0" width="5.00" height="19.20"/>
<rect x="142.0" y="1294.0" width="5.00" height="19.20"/>
<rect x="167.3" y="1285.4" width="5.00" height="27.80"/>
<rect x="176.5" y="1294.0" width="4.90" height="19.20"/>
<rect x="185.7" y="1294.0" width="4.90" height="19.20"/>
<rect x="258.8" y="1294.0" width="5.00" height="19.20"/>
<circle cx="178.95" cy="1287.5" r="3.15"/><circle cx="261.3" cy="1287.5" r="3.15"/>
<path d="M227.8 1285.4H233.7L242.5 1306.3L251.2 1285.4H257.1L245.4 1313.2H239.5Z"/>
<path d="M288.5 1294.0H294.0L298.8 1307.6L302.6 1294.0H307.2L311.0 1307.6L315.8 1294.0H321.2L313.7 1313.2H308.4L304.9 1300.4L301.4 1313.2H296.1Z"/>
</g>
<g fill="none" stroke="#e1e1e1">
<path d="M116.8 1305V1302.5C116.8 1298 120.2 1296.3 125.2 1296.6" stroke-width="5"/>
<circle cx="136.9" cy="1303.5" r="7.7" stroke-width="6.2"/>
<circle cx="161.2" cy="1303.5" r="7.7" stroke-width="6.2"/>
<circle cx="218.7" cy="1303.5" r="7.7" stroke-width="6.2"/>
<path d="M188.15 1305V1302.2A6.45 6.5 0 0 1 201.05 1302.2V1313.2" stroke-width="4.9"/>
<path d="M226.65 1294.0V1311.6C226.65 1317.2 222.8 1319.7 217.8 1319.7C214 1319.7 211.2 1318.6 209.2 1316.2" stroke-width="4.9"/>
<path d="M271.6 1303.9H287.0" stroke-width="4.4"/>
<path d="M287.2 1304.2A7.8 7.8 0 1 0 284.9 1309.3" stroke-width="6"/>
</g>
</svg>
</body></html>
